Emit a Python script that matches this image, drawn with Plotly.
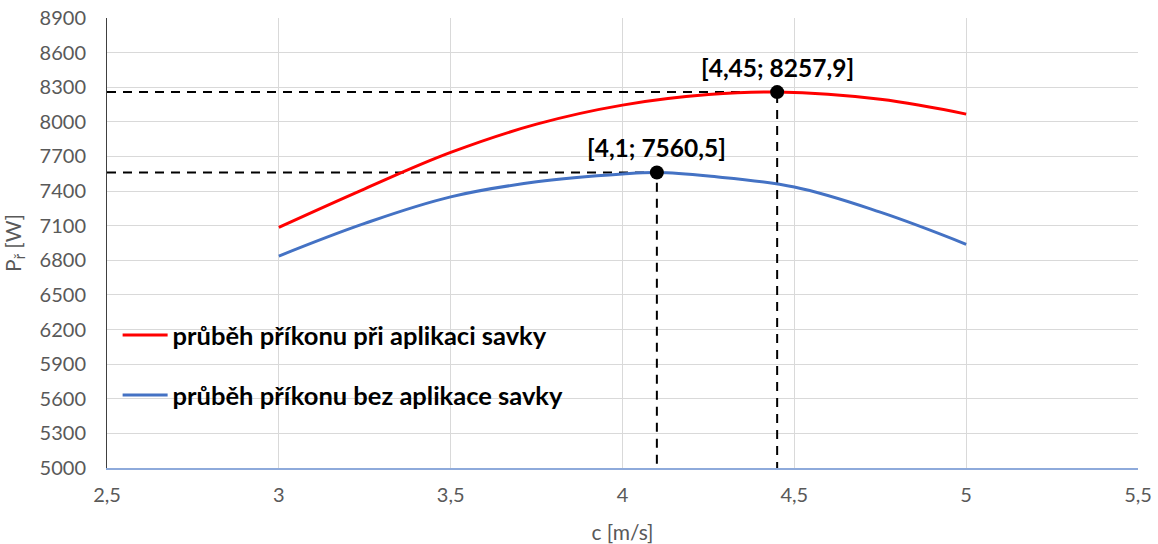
import plotly.graph_objects as go

# Data
c_red = [3.0, 3.25, 3.5, 3.75, 4.0, 4.25, 4.45, 4.75, 5.0]
p_red = [7086, 7420, 7735, 7980, 8145, 8236, 8257.9, 8195, 8067]
c_blue = [3.0, 3.25, 3.5, 3.75, 4.0, 4.1, 4.25, 4.5, 4.75, 5.0]
p_blue = [6837, 7120, 7350, 7480, 7548, 7560.5, 7530, 7435, 7217, 6939]
name_red = "průběh příkonu při aplikaci savky"
name_blue = "průběh příkonu bez aplikace savky"
peak_c = [4.45, 4.1]
peak_p = [8257.9, 7560.5]
peak_labels = ["[4,45; 8257,9]", "[4,1; 7560,5]"]
x_min, x_max = 2.5, 5.5
y_min, y_max = 5000, 8900

FONT = "Lato, sans-serif"

fig = go.Figure()

# dashed guide lines from peaks
for xc, yp in zip(peak_c, peak_p):
    fig.add_trace(go.Scatter(x=[x_min, xc, xc], y=[yp, yp, y_min], mode="lines",
                             line=dict(color="black", width=2, dash="9px,7px"),
                             showlegend=False, hoverinfo="skip"))

fig.add_trace(go.Scatter(x=c_red, y=p_red, mode="lines", name=name_red,
                         line=dict(color="#FF0000", width=3, shape="spline", smoothing=1.1),
                         legendgroup="a"))
fig.add_trace(go.Scatter(x=c_blue, y=p_blue, mode="lines", name=name_blue,
                         line=dict(color="#4472C4", width=3, shape="spline", smoothing=1.1),
                         legendgroup="b"))

fig.add_trace(go.Scatter(x=peak_c, y=peak_p, mode="markers",
                         marker=dict(color="black", size=14),
                         showlegend=False))

for xc, yp, lab in zip(peak_c, peak_p, peak_labels):
    fig.add_annotation(x=xc, y=yp, text="<b>" + lab + "</b>", showarrow=False,
                       yshift=25, font=dict(size=24.5, color="black", family=FONT))

fig.update_layout(
    width=1158, height=544,
    margin=dict(l=107, r=20, t=18, b=76),
    paper_bgcolor="white", plot_bgcolor="white",
    separators=", ",
    font=dict(family=FONT, color="#595959"),
    legend=dict(x=0.0103, y=0.347, xanchor="left", yanchor="top",
                bgcolor="rgba(0,0,0,0)", tracegroupgap=24, itemwidth=45,
                font=dict(size=25.5, color="black", family=FONT, weight="bold")),
    xaxis=dict(range=[x_min, x_max], dtick=0.5, tick0=2.5, showgrid=True,
               gridcolor="#d9d9d9", gridwidth=1, zeroline=False,
               showline=True, linecolor="#8eaadb", linewidth=1.5,
               ticks="", ticklabelstandoff=8, automargin=False,
               tickfont=dict(size=20, color="#595959"),
               title=dict(text="c [m/s]", font=dict(size=21, color="#595959"), standoff=22)),
    yaxis=dict(range=[y_min, y_max], dtick=300, tick0=5000, showgrid=True,
               gridcolor="#d9d9d9", gridwidth=1, zeroline=False,
               showline=True, linecolor="#404040", linewidth=1,
               ticks="", tickformat="d", ticklabelstandoff=16, automargin=False,
               tickfont=dict(size=20, color="#595959"),
               title=dict(text="P<sub>ř</sub> [W]", font=dict(size=21, color="#595959"), standoff=20)),
)

fig.write_html("out.html", config={"displayModeBar": False},
               post_script="document.body.style.margin='0px';")
